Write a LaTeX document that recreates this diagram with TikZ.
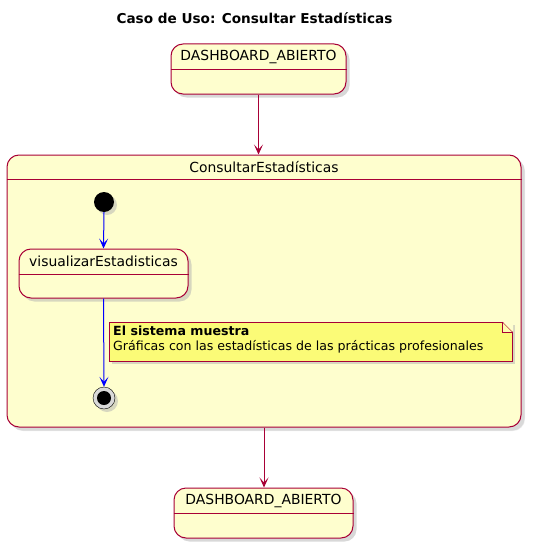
\documentclass[tikz,border=0pt]{standalone}
\usepackage{fontspec}
\setmainfont{DejaVu Sans}
\usetikzlibrary{arrows.meta,shadows}

\definecolor{umlred}{HTML}{A80036}
\definecolor{umlfill}{HTML}{FEFECE}
\definecolor{notefill}{HTML}{FBFB77}

\tikzset{
  state/.style={shape=rectangle,draw=umlred,fill=umlfill,rounded corners=12pt,line width=1pt,
    drop shadow={shadow xshift=3.5pt,shadow yshift=-3.5pt,fill=black!30},inner sep=0pt},
  divider/.style={draw=umlred,line width=1pt},
  statetext/.style={font=\fontsize{13.9}{16}\selectfont,text=black},
  redarrow/.style={-{Stealth[length=10pt,width=9pt,inset=5pt]},draw=umlred,line width=1pt},
  bluearrow/.style={-{Stealth[length=10pt,width=9pt,inset=5pt]},draw=blue,line width=1pt}
}

\begin{document}
\begin{tikzpicture}[x=1pt,y=-1pt]
	\useasboundingbox (0,0) rectangle (534,551);

	\node[font=\bfseries\fontsize{13.6}{16}\selectfont] (title) at (254.5, 18) {Caso de Uso: Consultar Estadísticas};

	% estados
	\node[state,minimum width=175pt,minimum height=50pt] (dashA) at (258.5, 69) {};
	\node[state,minimum width=514pt,minimum height=272pt,
	      drop shadow={shadow xshift=4pt,shadow yshift=-4pt,fill=black!15}] (consultar) at (264, 291) {};
	\node[state,minimum width=169pt,minimum height=49pt] (visualizar) at (103.5, 273.5) {};
	\node[state,minimum width=179pt,minimum height=50pt] (dashB) at (263.5, 513) {};

	\draw[divider] ([yshift=-26pt]dashA.north west) -- ([yshift=-26pt]dashA.north east);
	\draw[divider] ([yshift=-25pt]consultar.north west) -- ([yshift=-25pt]consultar.north east);
	\draw[divider] ([yshift=-26pt]visualizar.north west) -- ([yshift=-26pt]visualizar.north east);
	\draw[divider] ([yshift=-26pt]dashB.north west) -- ([yshift=-26pt]dashB.north east);

	\node[statetext] at ([yshift=-13pt]dashA.north) {DASHBOARD\_ABIERTO};
	\node[statetext] at ([yshift=-12.5pt]consultar.north) {ConsultarEstadísticas};
	\node[statetext] at ([yshift=-13pt]visualizar.north) {visualizarEstadisticas};
	\node[statetext] at ([yshift=-13pt]dashB.north) {DASHBOARD\_ABIERTO};

	% inicio y fin
	\node[shape=circle,fill=black,minimum size=20pt,inner sep=0pt,
	      drop shadow={shadow xshift=3pt,shadow yshift=-3pt,fill=black!30}] (inicio) at (104, 202) {};
	\node[shape=circle,draw=black,fill=black!15,minimum size=22pt,inner sep=0pt,
	      drop shadow={shadow xshift=3pt,shadow yshift=-3pt,fill=black!30}] (fin) at (104, 398) {};
	\node[shape=circle,fill=black,minimum size=14pt,inner sep=0pt] (finc) at (fin) {};

	% nota
	\node[draw=umlred,fill=notefill,anchor=north west,minimum width=403pt,minimum height=39pt,
	      inner sep=0pt,
	      drop shadow={shadow xshift=3pt,shadow yshift=-3pt,fill=black!30}] (nota) at (109, 322) {};
	\fill[white!40!notefill] ([xshift=-10pt]nota.north east) -- ([xshift=-10pt,yshift=-10pt]nota.north east)
	      -- ([yshift=-10pt]nota.north east) -- cycle;
	\draw[umlred] ([xshift=-10pt]nota.north east) -- ([xshift=-10pt,yshift=-10pt]nota.north east)
	      -- ([yshift=-10pt]nota.north east);
	\fill[umlfill] ([xshift=-10pt,yshift=0.5pt]nota.north east) -- ([xshift=0.6pt,yshift=0.5pt]nota.north east)
	      -- ([xshift=0.6pt,yshift=-10pt]nota.north east) -- cycle;
	\draw[umlred] ([xshift=-10pt]nota.north east) -- ([yshift=-10pt]nota.north east);
	\node[anchor=west,align=left,font=\fontsize{12.6}{15}\selectfont,inner sep=0pt] (notatexto)
	      at ([xshift=4pt,yshift=2.5pt]nota.west) {\textbf{El sistema muestra}\\Gráficas con las estadísticas de las prácticas profesionales};

	% transiciones
	\draw[redarrow] (dashA.south) -- (dashA.south |- consultar.north);
	\draw[redarrow] (consultar.south) -- (consultar.south |- dashB.north);
	\draw[bluearrow] (inicio.south) -- (visualizar.north);
	\draw[bluearrow] (visualizar.south) -- (fin.north);

\end{tikzpicture}
\end{document}
